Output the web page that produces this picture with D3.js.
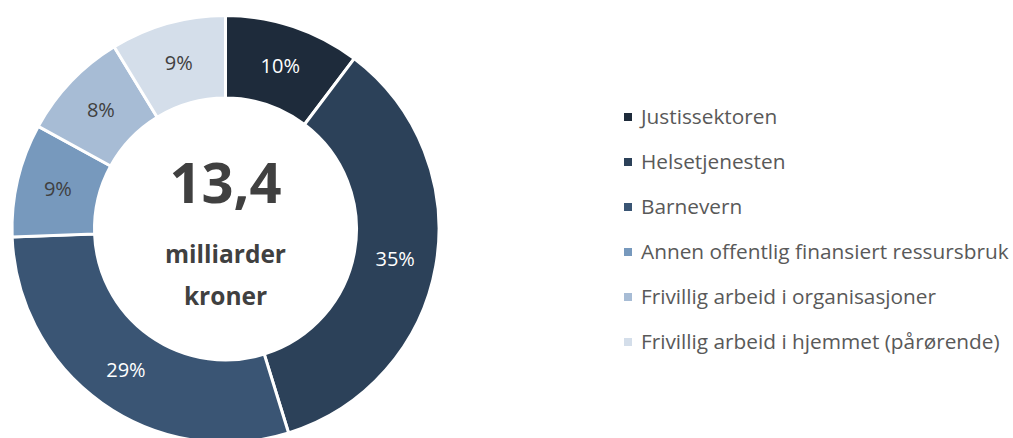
<!DOCTYPE html>
<html>
<head>
<meta charset="utf-8">
<title></title>
<style>
  body { margin: 0; background: #fff; }
  text { font-family: "Open Sans", Lato, sans-serif; }
</style>
</head>
<body>
<script src="https://d3js.org/d3.v7.min.js"></script>
<script>
// milliarder kroner per sektor
var categories = ["Justissektoren", "Helsetjenesten", "Barnevern",
  "Annen offentlig finansiert ressursbruk", "Frivillig arbeid i organisasjoner",
  "Frivillig arbeid i hjemmet (pårørende)"];
var values = [1.38, 4.68, 3.91, 1.15, 1.11, 1.17];
var colors = ["#1e2b3b", "#2c4159", "#3a5574", "#7799bd", "#a7bcd5", "#d4deea"];
var labelColors = ["#fff", "#fff", "#fff", "#404040", "#404040", "#404040"];
var totalLabel = "13,4";
var unitLines = ["milliarder", "kroner"];

var width = 1013, height = 438;
var cx = 225.5, cy = 229, outerR = 213.5, innerR = 131;

var svg = d3.select("body").append("svg")
  .attr("width", width).attr("height", height);

var total = d3.sum(values);
var pie = d3.pie().sort(null).value(function(d) { return d; });
var arc = d3.arc().innerRadius(innerR).outerRadius(outerR);

var g = svg.append("g").attr("transform", "translate(" + cx + "," + cy + ")");

var slices = g.selectAll("g.slice")
  .data(pie(values))
  .enter().append("g").attr("class", "slice");

slices.append("path")
  .attr("d", arc)
  .attr("fill", function(d, i) { return colors[i]; })
  .attr("stroke", "#fff")
  .attr("stroke-width", 3);

slices.append("text")
  .attr("transform", function(d) { return "translate(" + arc.centroid(d) + ")"; })
  .attr("text-anchor", "middle")
  .attr("dy", "0.35em")
  .attr("font-size", 20)
  .attr("fill", function(d, i) { return labelColors[i]; })
  .text(function(d) { return Math.round(d.value / total * 100) + "%"; });

// centre text
g.append("text")
  .attr("text-anchor", "middle")
  .attr("y", -26)
  .attr("font-size", 56)
  .attr("font-weight", "bold")
  .attr("fill", "#404040")
  .text(totalLabel);

g.selectAll("text.unit")
  .data(unitLines)
  .enter().append("text")
  .attr("class", "unit")
  .attr("text-anchor", "middle")
  .attr("y", function(d, i) { return 34 + i * 42; })
  .attr("font-size", 24.5)
  .attr("font-weight", "bold")
  .attr("fill", "#404040")
  .text(function(d) { return d; });

// legend
var legendY = d3.scalePoint().domain(categories).range([117, 342]);

var legend = svg.selectAll("g.legend")
  .data(categories)
  .enter().append("g").attr("class", "legend")
  .attr("transform", function(d) { return "translate(624," + legendY(d) + ")"; });

legend.append("rect")
  .attr("x", 0).attr("y", -4)
  .attr("width", 8).attr("height", 8)
  .attr("fill", function(d, i) { return colors[i]; });

legend.append("text")
  .attr("x", 17)
  .attr("dy", "0.35em")
  .attr("font-size", 20.8)
  .attr("fill", "#595959")
  .text(function(d) { return d; });
</script>
</body>
</html>
